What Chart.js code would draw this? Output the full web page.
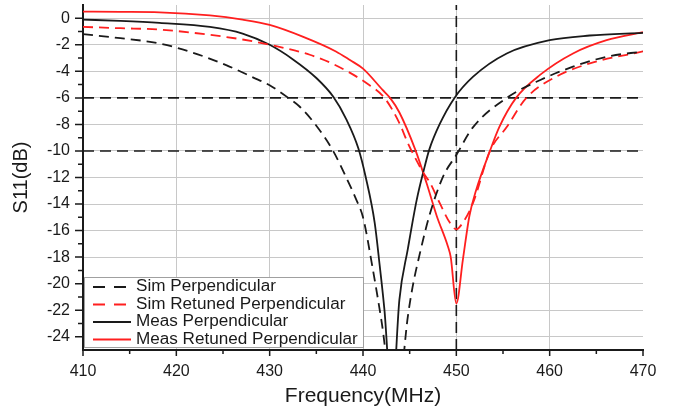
<!DOCTYPE html>
<html>
<head>
<meta charset="utf-8">
<script src="https://cdn.jsdelivr.net/npm/chart.js@4/dist/chart.umd.min.js"></script>
<style>
  body { margin: 0; background: #fff; }
  canvas { display: block; }
</style>
</head>
<body>
<canvas id="chart" width="673" height="414"></canvas>
<script>
// Data (frequency in MHz, S11 in dB)
const simPerpFreq = [410, 414, 418.2, 421.8, 425.4, 428.2, 430, 432, 433.2, 435, 436.8, 438.2, 439.3, 440, 441, 442, 443.5, 444.8, 445.3, 446.1, 447.1, 448.6, 450, 451.8, 455.4, 459, 462.5, 466.1, 470];
const simPerpS11 = [-1.2, -1.5, -1.9, -2.6, -3.55, -4.45, -5.05, -6.0, -6.65, -8.1, -10, -12, -13.7, -15, -18.7, -22.9, -30, -22.5, -20.3, -17.7, -14.9, -11.9, -10.3, -8.2, -6.0, -4.65, -3.65, -2.9, -2.5];

const simRetFreq = [410, 414, 418.2, 423.6, 427.1, 430.7, 434.3, 436.8, 440.4, 442.3, 443.9, 444.8, 445.5, 446.6, 447.1, 448.2, 449.3, 450, 450.7, 451.8, 453.6, 455.4, 457.5, 460.7, 464.3, 470];
const simRetS11 = [-0.65, -0.75, -0.85, -1.25, -1.6, -2.1, -2.75, -3.45, -4.9, -6.0, -7.9, -9.4, -10.4, -11.8, -12.3, -13.9, -15.4, -15.9, -15.4, -13.9, -10, -8.2, -6.0, -4.4, -3.4, -2.5];

const measPerpFreq = [410, 414, 418.2, 423.6, 427.1, 430, 432.5, 435, 436.8, 438.2, 439.5, 440.3, 441.25, 441.8, 442.3, 443.1, 443.9, 444.8, 445.75, 446.6, 447.1, 448.2, 449.8, 451.8, 455.4, 460, 464.3, 470];
const measPerpS11 = [-0.1, -0.2, -0.35, -0.65, -1.15, -2.0, -3.1, -4.5, -5.9, -7.6, -9.8, -12.0, -15.4, -18.7, -22, -29, -21.2, -17.4, -13.7, -11.2, -9.9, -8.0, -6.0, -4.4, -2.65, -1.65, -1.3, -1.1];

const measRetFreq = [410, 414, 418.2, 423.6, 427.1, 430, 433.6, 437.1, 438.6, 440, 442.1, 442.9, 443.9, 445.6, 446.8, 447.9, 449.1, 449.4, 450, 450.7, 451.4, 452.1, 453.6, 454.6, 456.4, 459, 462.5, 466.1, 470];
const measRetS11 = [0.5, 0.48, 0.45, 0.22, -0.1, -0.5, -1.4, -2.5, -3.15, -3.8, -5.4, -6.0, -7.1, -9.9, -12.4, -14.9, -17.2, -18.0, -21.5, -18.2, -14.9, -13.0, -10.0, -8.2, -6.0, -4.25, -2.65, -1.65, -1.05];

const seriesLabels = ['Sim Perpendicular', 'Sim Retuned Perpendicular', 'Meas Perpendicular', 'Meas Retuned Perpendicular'];

// reference markers
const refLevels = [-6, -10];
const refFreq = 450;

const xTicks = [410, 420, 430, 440, 450, 460, 470];
const xMinor = [415, 425, 435, 445, 455, 465];
const yTicks = [0, -2, -4, -6, -8, -10, -12, -14, -16, -18, -20, -22, -24];
const yMinor = [-1, -3, -5, -7, -9, -11, -13, -15, -17, -19, -21, -23];

const FONT = '"Liberation Sans", Arial, sans-serif';
const INK = '#1a1a1a';
const RED = '#ff1f1f';

function pts(f, s) {
    return f.map((x, i) => ({ x: x, y: s[i] }));
}

function curve(label, f, s, color, dashed) {
    return {
        label: label,
        data: pts(f, s),
        borderColor: color,
        borderWidth: 1.8,
        borderDash: dashed ? [10, 6] : [],
        pointRadius: 0,
        cubicInterpolationMode: 'monotone',
        fill: false
    };
}

function refLine(data) {
    return { label: '', data: data, borderColor: INK, borderWidth: 1.6, borderDash: [11, 6], pointRadius: 0, fill: false, isRef: true };
}

const datasets = [
    curve(seriesLabels[0], simPerpFreq, simPerpS11, INK, true),
    curve(seriesLabels[1], simRetFreq, simRetS11, RED, true),
    curve(seriesLabels[2], measPerpFreq, measPerpS11, INK, false),
    curve(seriesLabels[3], measRetFreq, measRetS11, RED, false),
];
refLevels.forEach(v => datasets.push(refLine([{ x: 410, y: v }, { x: 470, y: v }])));
datasets.push(refLine([{ x: refFreq, y: -25 }, { x: refFreq, y: 1 }]));

// axis ticks (major + minor) drawn outside the plot
const tickMarks = {
    id: 'tickMarks',
    afterDraw(chart) {
        const c = chart.ctx, x = chart.scales.x, y = chart.scales.y;
        const b = chart.chartArea.bottom, l = chart.chartArea.left;
        c.save();
        c.strokeStyle = INK;
        c.lineWidth = 1.5;
        c.beginPath();
        xTicks.forEach(v => { const p = x.getPixelForValue(v); c.moveTo(p, b); c.lineTo(p, b + 6); });
        xMinor.forEach(v => { const p = x.getPixelForValue(v); c.moveTo(p, b); c.lineTo(p, b + 4); });
        yTicks.forEach(v => { const p = y.getPixelForValue(v); c.moveTo(l, p); c.lineTo(l - 8, p); });
        yMinor.forEach(v => { const p = y.getPixelForValue(v); c.moveTo(l, p); c.lineTo(l - 5, p); });
        c.stroke();
        c.restore();
    }
};

// legend box inside the plot, lower left
const boxLegend = {
    id: 'boxLegend',
    afterDraw(chart) {
        const c = chart.ctx;
        const x0 = chart.chartArea.left + 1, y0 = 277, w = 279, h = 70;
        c.save();
        c.fillStyle = '#fff';
        c.fillRect(x0, y0, w, h);
        c.strokeStyle = '#a0a0a0';
        c.lineWidth = 1;
        c.strokeRect(x0 + 0.5, y0 + 0.5, w, h);
        c.font = '16px ' + FONT;
        c.textBaseline = 'middle';
        chart.data.datasets.filter(d => !d.isRef).forEach((d, i) => {
            const ry = 287 + i * 17.5;
            c.strokeStyle = d.borderColor;
            c.lineWidth = 1.8;
            c.setLineDash(d.borderDash.length ? [12, 9] : []);
            c.beginPath();
            c.moveTo(93, ry);
            c.lineTo(131, ry);
            c.stroke();
            // text in the source is a little wide, stretch it slightly
            c.save();
            c.translate(136, ry);
            c.scale(1.07, 1);
            c.fillStyle = INK;
            c.fillText(d.label, 0, 0);
            c.restore();
        });
        c.restore();
    }
};

new Chart(document.getElementById('chart'), {
    type: 'line',
    data: { datasets: datasets },
    options: {
        responsive: false,
        animation: false,
        layout: { padding: { top: 5, right: 30, left: 0, bottom: 0 } },
        plugins: { legend: { display: false }, tooltip: { enabled: false } },
        scales: {
            x: {
                type: 'linear',
                min: 410, max: 470,
                afterBuildTicks: s => { s.ticks = xTicks.map(v => ({ value: v })); },
                afterFit: s => { s.height = 64; s.paddingLeft = 0; s.paddingRight = 0; },
                ticks: { color: INK, font: { family: FONT, size: 16 }, padding: 12, maxRotation: 0 },
                grid: { drawTicks: false, color: c => (c.tick && (c.tick.value === 410 || c.tick.value === 470)) ? 'rgba(0,0,0,0)' : '#c8c8c8', lineWidth: 1 },
                border: { display: true, color: INK, width: 2 },
                title: { display: true, text: 'Frequency(MHz)', color: INK, font: { family: FONT, size: 21 }, padding: { top: 0, bottom: 5 } }
            },
            y: {
                type: 'linear',
                min: -25, max: 1,
                afterBuildTicks: s => { s.ticks = yTicks.map(v => ({ value: v })); },
                afterFit: s => { s.width = 83; s.paddingTop = 0; s.paddingBottom = 0; },
                ticks: { color: INK, font: { family: FONT, size: 16 }, padding: 13 },
                grid: { drawTicks: false, color: '#c8c8c8', lineWidth: 1 },
                border: { display: true, color: INK, width: 2 },
                title: { display: true, text: 'S11(dB)', color: INK, font: { family: FONT, size: 20 }, padding: { top: 9, bottom: 0 } }
            }
        }
    },
    plugins: [tickMarks, boxLegend]
});
</script>
</body>
</html>
